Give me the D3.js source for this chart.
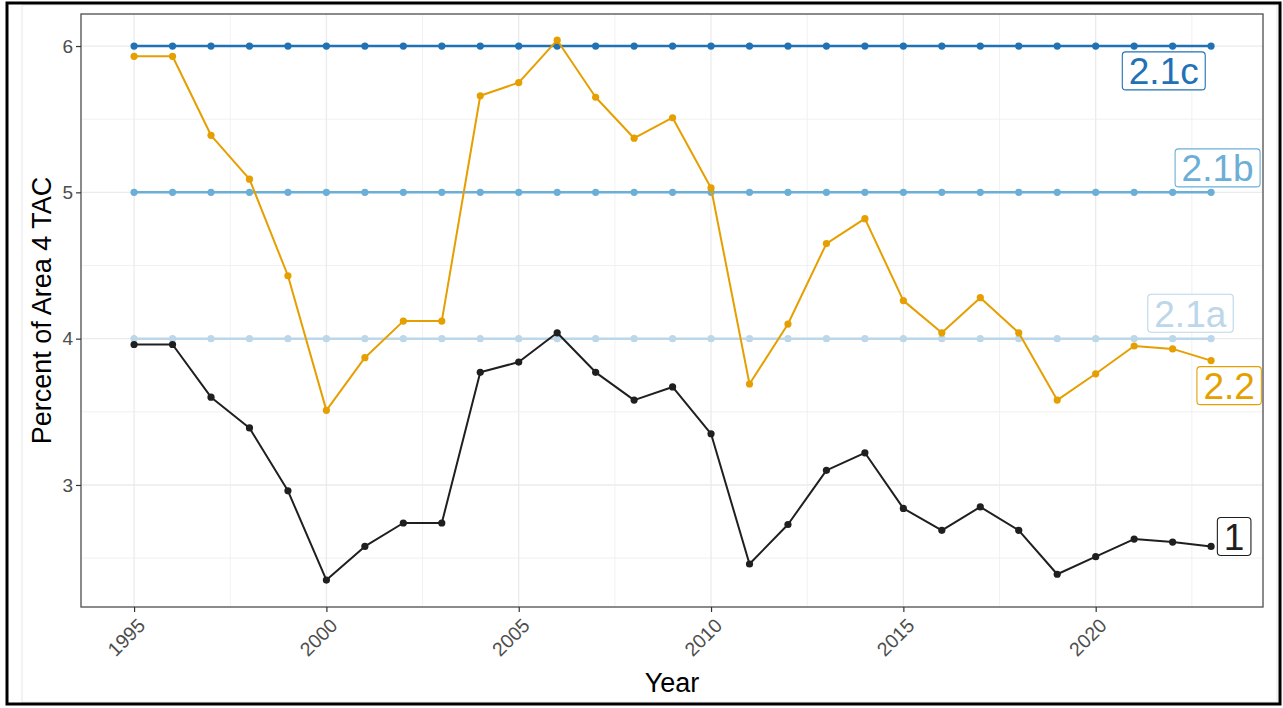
<!DOCTYPE html>
<html>
<head>
<meta charset="utf-8">
<script src="https://cdn.jsdelivr.net/npm/d3@7"></script>
<style>
  html, body { margin: 0; padding: 0; background: #fff; }
  svg { display: block; font-family: "Liberation Sans", Arial, sans-serif; }
</style>
</head>
<body>
<svg id="chart" width="1283" height="708"></svg>
<script>
// ---- data ----
const years = d3.range(1995, 2024);
const series1 = [3.96, 3.96, 3.60, 3.39, 2.96, 2.35, 2.58, 2.74, 2.74, 3.77,
                 3.84, 4.04, 3.77, 3.58, 3.67, 3.35, 2.46, 2.73, 3.10, 3.22,
                 2.84, 2.69, 2.85, 2.69, 2.39, 2.51, 2.63, 2.61, 2.58];
const series22 = [5.93, 5.93, 5.39, 5.09, 4.43, 3.51, 3.87, 4.12, 4.12, 5.66,
                  5.75, 6.04, 5.65, 5.37, 5.51, 5.03, 3.69, 4.10, 4.65, 4.82,
                  4.26, 4.04, 4.28, 4.04, 3.58, 3.76, 3.95, 3.93, 3.85];
const series21a = years.map(() => 4);
const series21b = years.map(() => 5);
const series21c = years.map(() => 6);
const seriesNames = ["2.1a", "2.1b", "2.1c", "2.2", "1"];
const labelYears = [2022.46, 2023.17, 2021.77, 2023.47, 2023.60];
const labelValues = [4.174, 5.167, 5.83, 3.679, 2.648];
const xTicks = [1995, 2000, 2005, 2010, 2015, 2020];
const xMinor = [1997.5, 2002.5, 2007.5, 2012.5, 2017.5, 2022.5];
const yTicks = [3, 4, 5, 6];
const yMinor = [2.5, 3.5, 4.5, 5.5];
const xTitle = "Year";
const yTitle = "Percent of Area 4 TAC";

// ---- styles ----
const colors = {"2.1a": "#bcd6ea", "2.1b": "#6baed6", "2.1c": "#2171b5", "2.2": "#E69F00", "1": "#1f1f1f"};
const widths = {"2.1a": 2.5, "2.1b": 2.5, "2.1c": 2.5, "2.2": 2.0, "1": 2.0};
const valuesBy = {"2.1a": series21a, "2.1b": series21b, "2.1c": series21c, "2.2": series22, "1": series1};

const svg = d3.select("#chart");
const P = {left: 81, right: 1263, top: 14, bottom: 607};

const x = d3.scaleLinear().domain([1993.62, 2024.35]).range([P.left, P.right]);
const y = d3.scaleLinear().domain([2.166, 6.219]).range([P.bottom, P.top]);

// outer frames
svg.append("rect").attr("x", 22).attr("y", 5).attr("width", 1255).attr("height", 697)
  .attr("fill", "none").attr("stroke", "#e8e8e8").attr("stroke-width", 1);
svg.append("rect").attr("x", 7).attr("y", 3).attr("width", 1273).attr("height", 701)
  .attr("fill", "none").attr("stroke", "#000").attr("stroke-width", 3);

// panel background
svg.append("rect").attr("x", P.left).attr("y", P.top)
  .attr("width", P.right - P.left).attr("height", P.bottom - P.top).attr("fill", "#fff");

const grid = svg.append("g");
grid.selectAll(".vmin").data(xMinor).join("line")
  .attr("x1", d => x(d)).attr("x2", d => x(d)).attr("y1", P.top).attr("y2", P.bottom)
  .attr("stroke", "#ededed").attr("stroke-width", 0.8);
grid.selectAll(".hmin").data(yMinor).join("line")
  .attr("y1", d => y(d)).attr("y2", d => y(d)).attr("x1", P.left).attr("x2", P.right)
  .attr("stroke", "#ededed").attr("stroke-width", 0.8);
grid.selectAll(".vmaj").data(xTicks).join("line")
  .attr("x1", d => x(d)).attr("x2", d => x(d)).attr("y1", P.top).attr("y2", P.bottom)
  .attr("stroke", "#ebebeb").attr("stroke-width", 1.3);
grid.selectAll(".hmaj").data(yTicks).join("line")
  .attr("y1", d => y(d)).attr("y2", d => y(d)).attr("x1", P.left).attr("x2", P.right)
  .attr("stroke", "#ebebeb").attr("stroke-width", 1.3);

// series
const line = d3.line().x((d, i) => x(years[i])).y(d => y(d));
seriesNames.forEach(name => {
  const vals = valuesBy[name];
  const g = svg.append("g");
  g.append("path").datum(vals).attr("d", line)
    .attr("fill", "none").attr("stroke", colors[name]).attr("stroke-width", widths[name])
    .attr("stroke-linejoin", "round");
  g.selectAll("circle").data(vals).join("circle")
    .attr("cx", (d, i) => x(years[i])).attr("cy", d => y(d)).attr("r", 3.6)
    .attr("fill", colors[name]);
});

// labels
seriesNames.forEach((name, i) => {
  const g = svg.append("g");
  const t = g.append("text")
    .attr("x", x(labelYears[i])).attr("y", y(labelValues[i]))
    .attr("dy", "0.36em")
    .attr("text-anchor", "middle")
    .attr("font-size", 37)
    .attr("fill", colors[name])
    .text(name);
  const bb = t.node().getBBox();
  const padX = 6.5, cy = y(labelValues[i]), h = 38;
  g.insert("rect", "text")
    .attr("x", bb.x - padX).attr("y", cy - h / 2)
    .attr("width", bb.width + 2 * padX).attr("height", h)
    .attr("rx", 3.5).attr("ry", 3.5)
    .attr("fill", "#fff").attr("stroke", colors[name]).attr("stroke-width", 1.1);
});

// panel border
svg.append("rect").attr("x", P.left).attr("y", P.top)
  .attr("width", P.right - P.left).attr("height", P.bottom - P.top)
  .attr("fill", "none").attr("stroke", "#4d4d4d").attr("stroke-width", 1.3);

// axes
const xAxis = svg.append("g").attr("transform", `translate(0,${P.bottom})`)
  .call(d3.axisBottom(x).tickValues(xTicks).tickFormat(d3.format("d")).tickSize(5).tickPadding(4));
xAxis.select(".domain").remove();
xAxis.selectAll(".tick line").attr("stroke", "#333").attr("stroke-width", 1.2);
xAxis.selectAll(".tick text")
  .attr("font-size", 19.5).attr("fill", "#4d4d4d")
  .attr("text-anchor", "end")
  .attr("y", 0).attr("dy", "0.35em")
  .attr("transform", "translate(7,15) rotate(-45)");

const yAxis = svg.append("g").attr("transform", `translate(${P.left},0)`)
  .call(d3.axisLeft(y).tickValues(yTicks).tickFormat(d3.format("d")).tickSize(5).tickPadding(3));
yAxis.select(".domain").remove();
yAxis.selectAll(".tick line").attr("stroke", "#333").attr("stroke-width", 1.2);
yAxis.selectAll(".tick text").attr("font-size", 19).attr("fill", "#4d4d4d");

// titles
svg.append("text").attr("x", (P.left + P.right) / 2).attr("y", 692)
  .attr("text-anchor", "middle").attr("font-size", 27).attr("fill", "#000").text(xTitle);
svg.append("text").attr("transform", `translate(51,${(P.top + P.bottom) / 2}) rotate(-90)`)
  .attr("text-anchor", "middle").attr("font-size", 27).attr("fill", "#000").text(yTitle);
</script>
</body>
</html>
